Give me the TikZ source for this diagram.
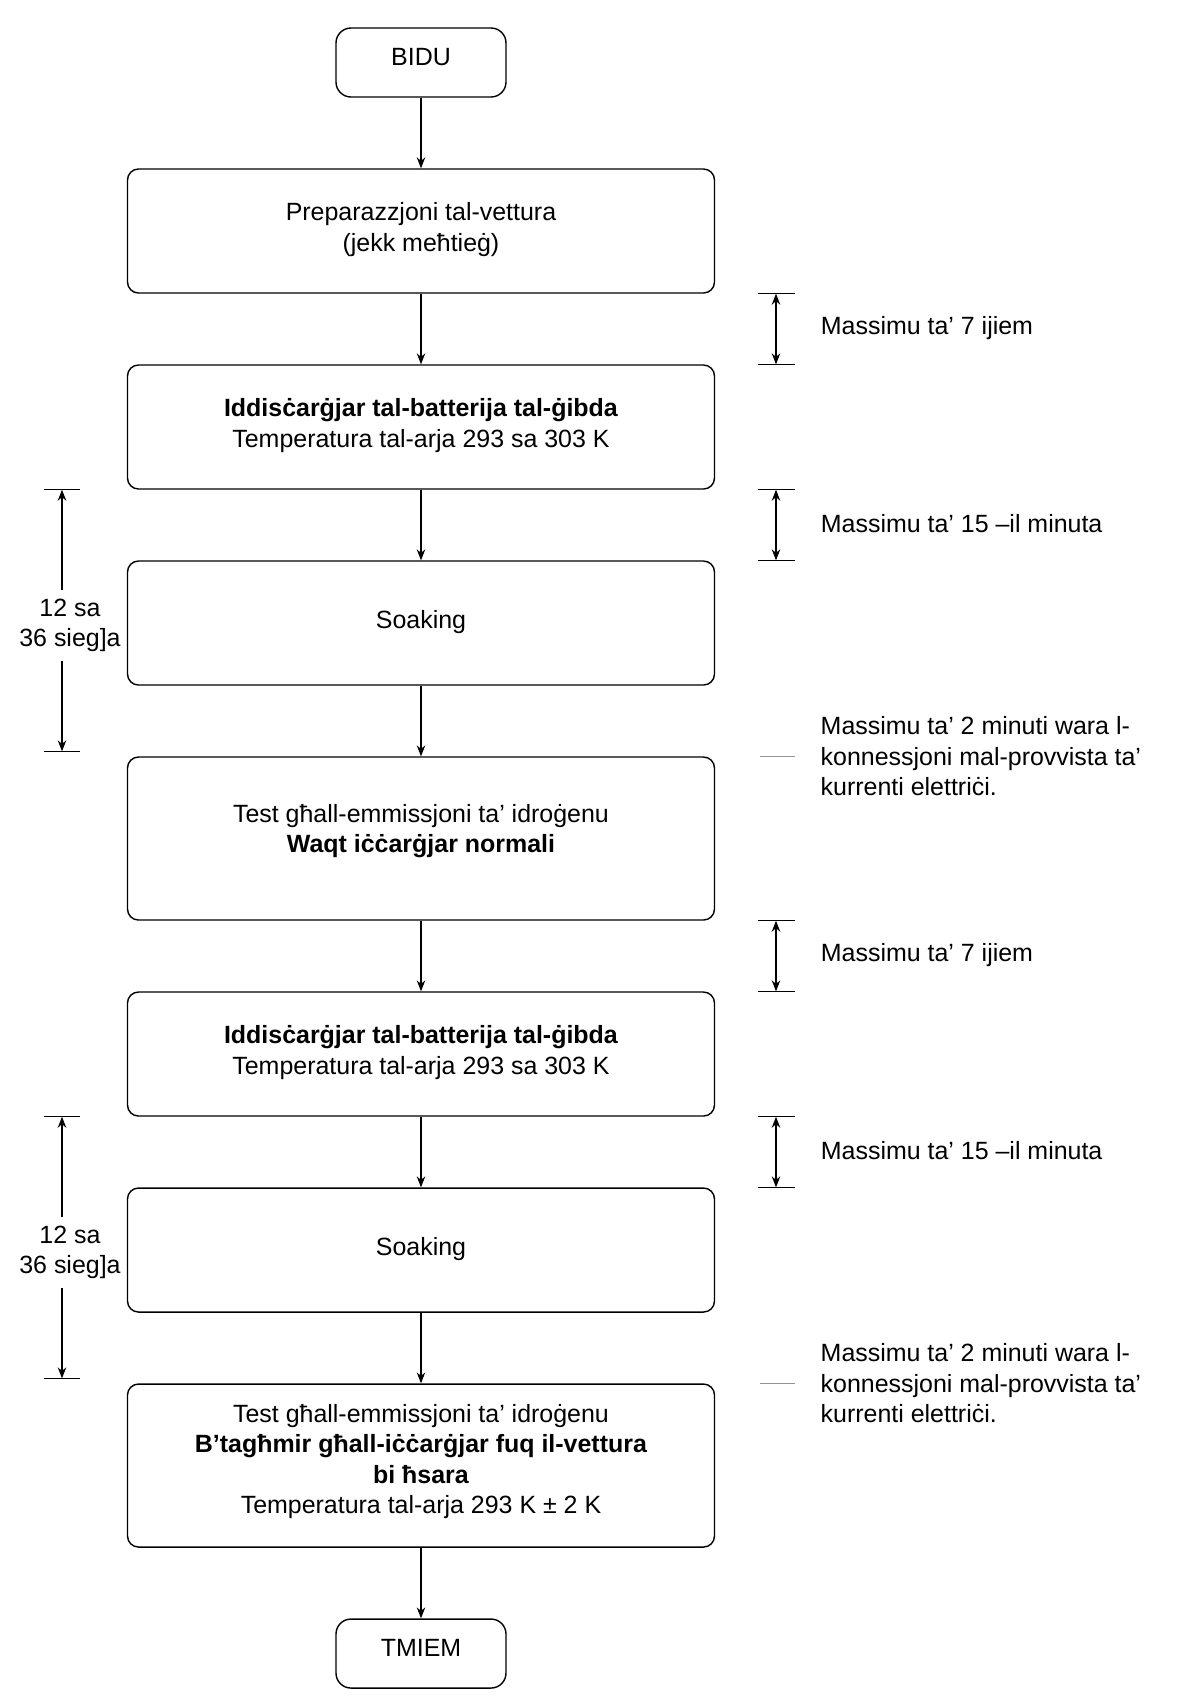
\documentclass[tikz,border=0pt]{standalone}
\usepackage{fontspec}
\setmainfont{Liberation Sans}
\usetikzlibrary{arrows.meta, positioning, calc}

\begin{document}
\begin{tikzpicture}[
    node distance=1.412cm,
    font=\fontsize{14.2}{17.4}\selectfont,
    box/.style={draw, line width=0.8pt, rounded corners=0.22cm, minimum width=11.74cm, minimum height=2.48cm, align=center, text depth=4.5pt},
    tallbox/.style={box, minimum height=3.26cm},
    term/.style={box, minimum width=3.4cm, minimum height=1.38cm, rounded corners=0.3cm, text depth=6pt},
    flow/.style={-{Stealth[length=0.22cm, width=0.17cm]}, line width=0.6pt},
    dimarrow/.style={{Stealth[length=0.22cm, width=0.17cm]}-{Stealth[length=0.22cm, width=0.17cm]}, line width=0.6pt},
    tickline/.style={line width=0.6pt},
    graymark/.style={gray!85, line width=0.8pt},
    note/.style={anchor=west, align=left, xshift=0.77cm},
    wait/.style={align=center, inner ysep=5pt}
]
\useasboundingbox (0,0) rectangle (23.94,-34.02);

\node[term] (bidu) at (8.42,-1.25) {BIDU};
\node[box, below=of bidu] (prep) {Preparazzjoni tal-vettura\\(jekk meħtieġ)};
\node[box, below=of prep] (disc1) {\textbf{Iddisċarġjar tal-batterija tal-ġibda}\\Temperatura tal-arja 293 sa 303 K};
\node[box, below=of disc1] (soak1) {Soaking};
\node[tallbox, below=of soak1, text depth=11.5pt] (test1) {Test għall-emmissjoni ta’ idroġenu\\\textbf{Waqt iċċarġjar normali}};
\node[box, below=of test1] (disc2) {\textbf{Iddisċarġjar tal-batterija tal-ġibda}\\Temperatura tal-arja 293 sa 303 K};
\node[box, below=of disc2] (soak2) {Soaking};
\node[tallbox, below=of soak2, text depth=7.5pt] (test2) {Test għall-emmissjoni ta’ idroġenu\\\textbf{B’tagħmir għall-iċċarġjar fuq il-vettura}\\\textbf{bi ħsara}\\Temperatura tal-arja 293 K ± 2 K};
\node[term, below=of test2] (tmiem) {TMIEM};

\foreach \a/\b in {bidu/prep, prep/disc1, disc1/soak1, soak1/test1, test1/disc2, disc2/soak2, soak2/test2, test2/tmiem}
    \draw[flow] (\a) -- (\b);

\coordinate (rx) at (15.52,0);
\coordinate (lx) at (1.24,0);

\foreach \a/\b/\txt [count=\i] in {prep/disc1/{Massimu ta’ 7 ijiem}, disc1/soak1/{Massimu ta’ 15 –il minuta}, test1/disc2/{Massimu ta’ 7 ijiem}, disc2/soak2/{Massimu ta’ 15 –il minuta}} {
    \draw[dimarrow] (\a.south -| rx) -- node[note, yshift=0.02cm] (gap\i) {\txt} (\b.north -| rx);
    \draw[tickline] (\a.south -| rx) ++(-0.37,0) -- ++(0.74,0);
    \draw[tickline] (\b.north -| rx) ++(-0.37,0) -- ++(0.74,0);
}

\foreach \t [count=\i] in {test1, test2} {
    \draw[graymark] (\t.north -| rx) ++(-0.32,0) -- ++(0.7,0);
    \node[note] (charge\i) at (\t.north -| rx) {Massimu ta’ 2 minuti wara l-\\konnessjoni mal-provvista ta’\\kurrenti elettriċi.};
}

\foreach \a/\b [count=\i] in {disc1/test1, disc2/test2} {
    \coordinate (top\i) at (\a.south -| lx);
    \coordinate (bot\i) at ($(\b.north -| lx)+(0,0.1)$);
    \node[wait] (soaktime\i) at ($(top\i)!0.5!(bot\i)+(0.16,-0.1)$) {12 sa\\36 sieg]a};
    \draw[flow] (soaktime\i.north -| lx) -- (top\i);
    \draw[flow] (soaktime\i.south -| lx) -- (bot\i);
    \draw[tickline] (top\i) ++(-0.36,0) -- ++(0.72,0);
    \draw[tickline] (bot\i) ++(-0.36,0) -- ++(0.72,0);
}
\end{tikzpicture}
\end{document}
